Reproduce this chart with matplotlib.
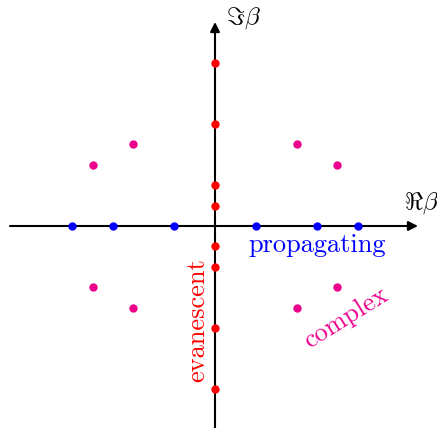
import matplotlib.pyplot as plt
import numpy as np

plt.rcParams['mathtext.fontset'] = 'cm'

# propagating modes (real beta)
prop_re = [-7, -5, -2, 2, 5, 7]
# evanescent modes (imaginary beta)
evan_im = [8, 5, 2, 1, -1, -2, -5, -8]
# complex modes
cplx_re = [-6, -4, 4, 6, -6, -4, 4, 6]
cplx_im = [3, 4, 4, 3, -3, -4, -4, -3]

magenta = '#EC008C'

fig = plt.figure(figsize=(4.37, 4.28), dpi=100)
ax = fig.add_axes([0, 0, 1, 1])
u = 20.4
ax.set_xlim(-215 / u, 222 / u)
ax.set_ylim(-202 / u, 226 / u)
ax.axis('off')

# axes with arrow heads
ax.annotate('', xy=(9.95, 0), xytext=(-10.05, 0),
            arrowprops=dict(arrowstyle='-|>', lw=1.5, color='black',
                            mutation_scale=14, shrinkA=0, shrinkB=0))
ax.annotate('', xy=(0, 10.0), xytext=(0, -10.0),
            arrowprops=dict(arrowstyle='-|>', lw=1.5, color='black',
                            mutation_scale=14, shrinkA=0, shrinkB=0))

ax.plot(prop_re, np.zeros(len(prop_re)), 'o', color='blue', ms=5, zorder=3)
ax.plot(np.zeros(len(evan_im)), evan_im, 'o', color='red', ms=5, zorder=3)
ax.plot(cplx_re, cplx_im, 'o', color=magenta, ms=5, zorder=3)

ax.text(206 / u, 23 / u, r'$\Re\beta$', fontsize=18, ha='center', va='center')
ax.text(28 / u, 208 / u, r'$\Im\beta$', fontsize=18, ha='center', va='center')

ax.text(102 / u, -19 / u, 'propagating', family='cmr10', fontsize=19,
        color='blue', ha='center', va='center')
ax.text(-18 / u, -94 / u, 'evanescent', family='cmr10', fontsize=19,
        color='red', ha='center', va='center', rotation=90)
ax.text(131 / u, -92 / u, 'complex', family='cmr10', fontsize=19,
        color=magenta, ha='center', va='center', rotation=32)

fig.savefig('out.png', dpi=100)
